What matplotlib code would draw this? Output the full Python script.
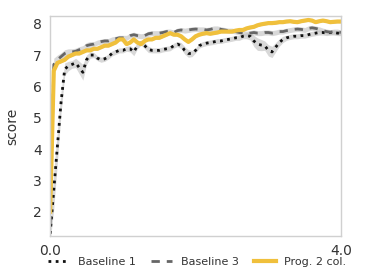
import numpy as np
import matplotlib
matplotlib.use("Agg")
import matplotlib.pyplot as plt

x_step = 0.05
x_values = [round(i * x_step, 2) for i in range(81)]

baseline1 = [1.3, 2.7, 4.1, 5.5, 6.55, 6.65, 6.7, 6.75, 6.6, 6.45,
             6.85, 7.0, 7.0, 6.9, 6.85, 6.88, 6.95, 7.05, 7.1, 7.15,
             7.15, 7.2, 7.2, 7.1, 7.3, 7.4, 7.3, 7.18, 7.15, 7.15,
             7.15, 7.18, 7.2, 7.22, 7.3, 7.35, 7.3, 7.15, 7.05, 7.05,
             7.15, 7.3, 7.35, 7.38, 7.4, 7.42, 7.45, 7.45, 7.48, 7.5,
             7.52, 7.55, 7.55, 7.6, 7.62, 7.6, 7.45, 7.35, 7.32, 7.3,
             7.15, 7.1, 7.25, 7.4, 7.5, 7.55, 7.58, 7.6, 7.6, 7.62,
             7.62, 7.65, 7.68, 7.7, 7.72, 7.72, 7.7, 7.72, 7.72, 7.7,
             7.7]
baseline1_spread = [0.25, 0.6, 0.5, 0.35, 0.2, 0.15, 0.12, 0.15, 0.2, 0.25,
                    0.15, 0.1, 0.08, 0.08, 0.08, 0.08, 0.08, 0.08, 0.08, 0.08,
                    0.08, 0.08, 0.1, 0.12, 0.1, 0.08, 0.1, 0.1, 0.08, 0.08,
                    0.08, 0.08, 0.08, 0.08, 0.08, 0.08, 0.1, 0.12, 0.12, 0.1,
                    0.08, 0.08, 0.08, 0.08, 0.08, 0.08, 0.08, 0.08, 0.08, 0.08,
                    0.08, 0.08, 0.08, 0.08, 0.1, 0.12, 0.18, 0.2, 0.18, 0.15,
                    0.18, 0.18, 0.15, 0.12, 0.1, 0.08, 0.08, 0.08, 0.08, 0.08,
                    0.08, 0.08, 0.08, 0.08, 0.08, 0.08, 0.08, 0.08, 0.08, 0.08,
                    0.08]

baseline3 = [1.6, 6.7, 6.85, 6.95, 7.05, 7.1, 7.1, 7.12, 7.17, 7.2,
             7.3, 7.33, 7.35, 7.4, 7.43, 7.45, 7.45, 7.5, 7.52, 7.55,
             7.55, 7.55, 7.62, 7.65, 7.62, 7.6, 7.62, 7.68, 7.7, 7.7,
             7.7, 7.72, 7.75, 7.75, 7.72, 7.78, 7.8, 7.78, 7.8, 7.82,
             7.83, 7.82, 7.82, 7.8, 7.82, 7.85, 7.85, 7.82, 7.8, 7.78,
             7.78, 7.75, 7.72, 7.7, 7.68, 7.7, 7.72, 7.7, 7.7, 7.72,
             7.72, 7.7, 7.72, 7.75, 7.75, 7.78, 7.8, 7.82, 7.83, 7.82,
             7.8, 7.85, 7.87, 7.85, 7.82, 7.78, 7.75, 7.73, 7.75, 7.75,
             7.72]
baseline3_spread = [0.3, 0.2, 0.15, 0.12, 0.12, 0.1, 0.1, 0.1, 0.1, 0.1,
                    0.1, 0.1, 0.08, 0.08, 0.08, 0.08, 0.08, 0.08, 0.08, 0.08,
                    0.08, 0.08, 0.08, 0.08, 0.08, 0.08, 0.08, 0.08, 0.08, 0.08,
                    0.08, 0.08, 0.08, 0.08, 0.08, 0.08, 0.08, 0.08, 0.08, 0.08,
                    0.08, 0.08, 0.08, 0.08, 0.08, 0.08, 0.08, 0.08, 0.08, 0.08,
                    0.08, 0.08, 0.08, 0.08, 0.08, 0.08, 0.08, 0.08, 0.08, 0.08,
                    0.08, 0.08, 0.08, 0.08, 0.08, 0.08, 0.08, 0.08, 0.08, 0.08,
                    0.08, 0.08, 0.08, 0.08, 0.08, 0.08, 0.08, 0.08, 0.08, 0.08,
                    0.08]

prog2col = [2.0, 6.5, 6.75, 6.8, 6.85, 6.95, 7.0, 7.05, 7.05, 7.1,
            7.15, 7.15, 7.2, 7.2, 7.25, 7.3, 7.3, 7.35, 7.4, 7.5,
            7.5, 7.35, 7.4, 7.5, 7.4, 7.35, 7.45, 7.5, 7.5, 7.55,
            7.55, 7.6, 7.65, 7.7, 7.65, 7.65, 7.6, 7.5, 7.42, 7.5,
            7.6, 7.65, 7.68, 7.7, 7.68, 7.7, 7.72, 7.75, 7.75, 7.75,
            7.75, 7.78, 7.8, 7.8, 7.85, 7.88, 7.9, 7.95, 7.98, 8.0,
            8.02, 8.02, 8.03, 8.05, 8.05, 8.07, 8.08, 8.06, 8.05, 8.08,
            8.1, 8.12, 8.1, 8.05, 8.08, 8.1, 8.08, 8.05, 8.06, 8.07,
            8.07]
prog2col_spread = [0.1] + [0.04] * 80

labels = ["Baseline 1", "Baseline 3", "Prog. 2 col."]
x_ticks = [0.0, 4.0]
y_ticks = [2, 3, 4, 5, 6, 7, 8]

fig = plt.figure(figsize=(3.66, 2.74), dpi=100)
ax = fig.add_axes([0.137, 0.139, 0.795, 0.803])

x = np.array(x_values)
series = [
    (baseline1, baseline1_spread, dict(color="#111111", lw=2.0, ls=(0, (1, 1.6)))),
    (baseline3, baseline3_spread, dict(color="#666666", lw=2.0, ls=(0, (3, 2.5)))),
    (prog2col, prog2col_spread, dict(color="#F0C03C", lw=3.0, ls="-")),
]
for (vals, spr, style), lab in zip(series, labels):
    v = np.array(vals)
    s = np.array(spr)
    ax.fill_between(x, v - s, v + s, color="#bfbfbf", alpha=0.6, lw=0)
for (vals, spr, style), lab in zip(series, labels):
    ax.plot(x, vals, label=lab, **style)

ax.set_xlim(0, 4)
ax.set_ylim(1.23, 8.25)
ax.set_xticks(x_ticks)
ax.set_xticklabels([f"{t:.1f}" for t in x_ticks])
ax.set_yticks(y_ticks)
ax.tick_params(length=0, labelsize=10, colors="#333333", pad=6)
ax.set_ylabel("score", fontsize=10, color="#333333", labelpad=10)
for sp in ax.spines.values():
    sp.set_color("#d0d0d0")
    sp.set_linewidth(1.0)

leg = ax.legend(loc="center", bbox_to_anchor=(0.505, -0.118), ncol=3,
                frameon=False, fontsize=8, handlelength=1.9,
                columnspacing=1.4, handletextpad=0.8, labelcolor="#333333",
                borderpad=0.0)

fig.savefig("out.png", dpi=100)
